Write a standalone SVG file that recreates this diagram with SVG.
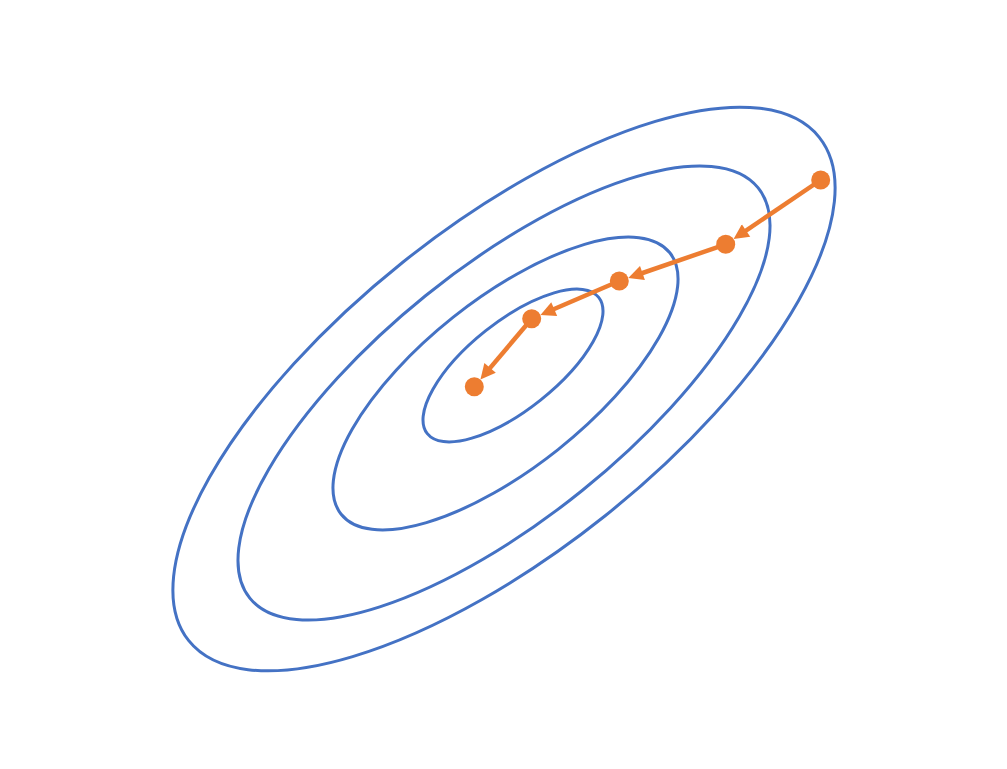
<svg xmlns="http://www.w3.org/2000/svg" width="1007" height="769" viewBox="0 0 1007 769">
<style>
.c{fill:none;stroke:#4472C4;stroke-width:3}
.a{stroke:#ED7D31;stroke-width:4.5;fill:none}
.d{fill:#ED7D31}
</style>
<defs>
<marker id="ah" markerUnits="userSpaceOnUse" viewBox="0 0 10 10" markerWidth="16" markerHeight="15" refX="3" refY="5" orient="auto">
<path d="M0,0 L10,5 L0,10 z" fill="#ED7D31"/>
</marker>
</defs>
<rect width="1007" height="769" fill="#fff"/>
<g id="contours">
<ellipse id="c1" class="c" cx="504" cy="389" rx="403.4" ry="162.2" transform="rotate(-38.6 504 389)"/>
<ellipse id="c2" class="c" cx="504" cy="393" rx="326.6" ry="125" transform="rotate(-38.9 504 393)"/>
<ellipse id="c3" class="c" cx="505.5" cy="383.5" rx="210" ry="84.4" transform="rotate(-38.5 505.5 383.5)"/>
<ellipse id="c4" class="c" cx="513" cy="365.5" rx="109.5" ry="44.2" transform="rotate(-38.5 513 365.5)"/>
</g>
<g id="connectors">
<line class="a" x1="820.7" y1="180" x2="742.3" y2="233.1" marker-end="url(#ah)"/>
<line class="a" x1="725.7" y1="244.3" x2="638.2" y2="274.5" marker-end="url(#ah)"/>
<line class="a" x1="619.3" y1="281" x2="550.1" y2="310.8" marker-end="url(#ah)"/>
<line class="a" x1="531.7" y1="318.7" x2="487.2" y2="371.4" marker-end="url(#ah)"/>
</g>
<g id="p1"><circle class="d" cx="820.7" cy="180" r="9.5"/></g>
<g id="p2"><circle class="d" cx="725.7" cy="244.3" r="9.5"/></g>
<g id="p3"><circle class="d" cx="619.3" cy="281" r="9.5"/></g>
<g id="p4"><circle class="d" cx="531.7" cy="318.7" r="9.5"/></g>
<g id="p5"><circle class="d" cx="474.3" cy="386.7" r="9.5"/></g>
</svg>
